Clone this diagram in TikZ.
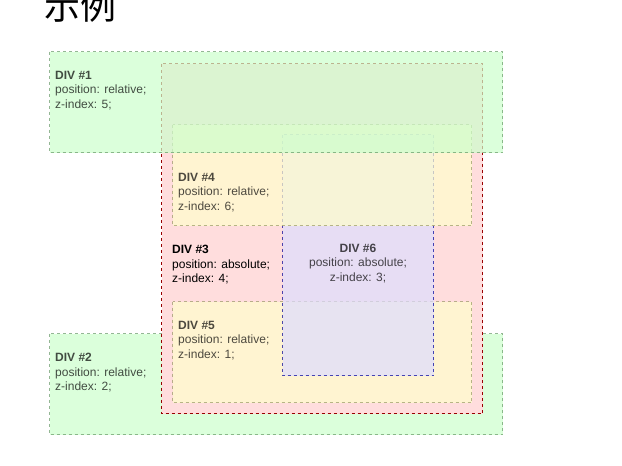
\documentclass[tikz,border=0pt]{standalone}
\usepackage{fontspec}
\setmainfont{Liberation Sans}
\newfontfamily\cjk{Noto Sans CJK SC}
\definecolor{gfill}{RGB}{204,255,204}
\definecolor{gline}{RGB}{102,153,102}
\definecolor{pfill}{RGB}{255,221,221}
\definecolor{pline}{RGB}{153,0,0}
\definecolor{yfill}{RGB}{255,255,204}
\definecolor{yline}{RGB}{153,153,102}
\definecolor{bfill}{RGB}{221,221,255}
\definecolor{bline}{RGB}{0,0,153}
\tikzset{
  divbox/.style={line width=1pt, dash pattern=on 3pt off 3pt},
  faded/.style={opacity=0.7},
  greenbox/.style={divbox, faded, fill=gfill, draw=gline},
  redbox/.style={divbox, fill=pfill, draw=pline},
  yellowbox/.style={divbox, faded, fill=yfill, draw=yline},
  bluebox/.style={divbox, faded, fill=bfill, draw=bline},
  divtext/.style={inner sep=0pt, anchor=north west, align=left,
    font=\fontsize{12}{14.5}\selectfont, text=black},
  fadedtext/.style={divtext, text opacity=0.7},
}
\begin{document}
\begin{tikzpicture}[x=1pt,y=-1pt]
\useasboundingbox (0,0) rectangle (622,466);
% title
\node[inner sep=0pt, anchor=base west, font=\cjk\fontsize{36}{40}\selectfont] (title) at (44,19) {示例};
% DIV #2 (z 2)
\draw[greenbox] (49.5,333.5) rectangle (502.5,434.5);
\node[fadedtext] (t2) at (55,353) {\textbf{DIV \#2}\\position: relative;\\z-index: 2;};
% DIV #3 (z 4)
\draw[redbox] (161.5,63.5) rectangle (482.5,413.5);
\node[divtext] (t3) at (172,245) {\textbf{DIV \#3}\\position: absolute;\\z-index: 4;};
% DIV #5 (z 1)
\draw[yellowbox] (172.5,301.5) rectangle (471.5,402.5);
\node[fadedtext] (t5) at (178,321) {\textbf{DIV \#5}\\position: relative;\\z-index: 1;};
% DIV #6 (z 3)
\draw[bluebox] (282.5,134.5) rectangle (433.5,375.5);
\node[fadedtext, anchor=north, align=center] (t6) at (358,243.5) {\textbf{DIV \#6}\\position: absolute;\\z-index: 3;};
% DIV #4 (z 6)
\draw[yellowbox] (172.5,124.5) rectangle (471.5,225.5);
\node[fadedtext] (t4) at (178,173) {\textbf{DIV \#4}\\position: relative;\\z-index: 6;};
% DIV #1 (z 5)
\draw[greenbox] (49.5,51.5) rectangle (502.5,152.5);
\node[fadedtext] (t1) at (55,71) {\textbf{DIV \#1}\\position: relative;\\z-index: 5;};
\end{tikzpicture}
\end{document}
